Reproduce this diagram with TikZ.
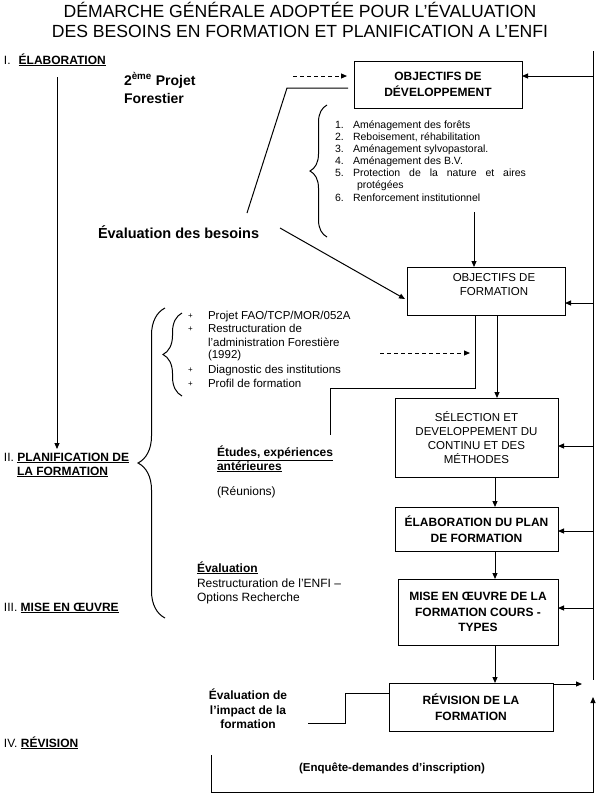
\documentclass[tikz,border=0pt]{standalone}
\usepackage{fontspec}
\setmainfont{Liberation Sans}
\usetikzlibrary{arrows.meta,decorations.pathreplacing}
\begin{document}
\begin{tikzpicture}[x=1pt,y=-1pt,
  every node/.style={inner sep=0pt, outer sep=0pt},
  box/.style={draw, line width=1pt, align=center, font=\fontsize{12}{15.5}\selectfont\bfseries},
  rbox/.style={draw, line width=1pt, align=center, font=\fontsize{11.5}{14}\selectfont},
  ln/.style={line width=1pt},
  arr/.style={line width=1pt, -{Triangle[length=6pt,width=5pt]}},
  darr/.style={arr, dash pattern=on 4pt off 3pt},
  lbl/.style={anchor=base west, font=\fontsize{12}{14}\selectfont},
  lst/.style={anchor=base west, font=\fontsize{10.5}{12}\selectfont},
  lstb/.style={anchor=base west, font=\fontsize{11.5}{13}\selectfont},
  brc/.style={line width=1pt, decorate},
]
\useasboundingbox (0,0) rectangle (601,801);

% title
\node[anchor=base, font=\fontsize{17.6}{20}\selectfont] (t1) at (300,17) {DÉMARCHE GÉNÉRALE ADOPTÉE POUR L’ÉVALUATION};
\node[anchor=base, font=\fontsize{17.6}{20}\selectfont] (t2) at (300,37) {DES BESOINS EN FORMATION ET PLANIFICATION A L’ENFI};

% left phase labels
\node[lbl] (ph1) at (4,64) {I.\hspace{8pt}\textbf{\underline{ÉLABORATION}}};
\node[lbl] (ph2) at (4,461) {II. \textbf{\underline{PLANIFICATION DE}}};
\node[lbl] (ph2b) at (17,475) {\textbf{\underline{LA FORMATION}}};
\node[lbl] (ph3) at (4,611) {III. \textbf{\underline{MISE EN ŒUVRE}}};
\node[lbl] (ph4) at (4,747) {IV. \textbf{\underline{RÉVISION}}};

\coordinate (la) at (57,77);
\coordinate (lb) at (57,449);
\draw[arr] (la) -- (lb);

% boxes
\node[box, minimum width=168pt, minimum height=47pt] (b1) at (438,84.5) {OBJECTIFS DE\\DÉVELOPPEMENT};
\node[draw, line width=1pt, minimum width=158pt, minimum height=48pt] (b2) at (486,291) {};
\node[align=center, font=\fontsize{11.5}{14}\selectfont] (b2t) at (494,285) {OBJECTIFS DE\\FORMATION};
\node[rbox, minimum width=163pt, minimum height=79pt] (b3) at (476.5,437.5) {SÉLECTION ET\\DEVELOPPEMENT DU\\CONTINU ET DES\\MÉTHODES};
\node[box, minimum width=163pt, minimum height=44pt] (b4) at (476.5,529) {ÉLABORATION DU PLAN\\DE FORMATION};
\node[box, minimum width=160pt, minimum height=66pt] (b5) at (478,612) {MISE EN ŒUVRE DE LA\\FORMATION COURS -\\TYPES};
\node[box, minimum width=164pt, minimum height=48pt] (b6) at (471,707) {RÉVISION DE LA\\FORMATION};

% 2eme projet forestier
\node[anchor=base west, font=\fontsize{14}{17}\selectfont\bfseries] (pf1) at (124,85) {2\textsuperscript{ème} Projet};
\node[anchor=base west, font=\fontsize{14}{17}\selectfont\bfseries] (pf2) at (124,103) {Forestier};

\coordinate (d1) at (293,76);
\draw[darr, shorten >=7pt] (d1) -- (d1 -| b1.west);

\coordinate (s1) at (247,213);
\coordinate (s2) at (287,88);
\coordinate (s3) at (348,88);
\draw[ln] (s1) -- (s2) -- (s3);

% list 1
\draw[brc, decoration={brace, amplitude=17pt}] (327,237) -- (327,105);
\node[lst] (n1) at (335,128) {1.};
\node[lst] (i1) at (353,128) {Aménagement des forêts};
\node[lst] (n2) at (335,140) {2.};
\node[lst] (i2) at (353,140) {Reboisement, réhabilitation};
\node[lst] (n3) at (335,152) {3.};
\node[lst] (i3) at (353,152) {Aménagement sylvopastoral.};
\node[lst] (n4) at (335,164) {4.};
\node[lst] (i4) at (353,164) {Aménagement des B.V.};
\node[lst] (n5) at (335,176) {5.};
\node[lst] (i5) at (353,176) {\makebox[173pt][s]{Protection de la nature et aires}};
\node[lst] (i5b) at (357,188) {protégées};
\node[lst] (n6) at (335,201) {6.};
\node[lst] (i6) at (353,201) {Renforcement institutionnel};

\coordinate (a12) at (474,212);
\draw[arr] (a12) -- (a12 |- b2.north);

% evaluation des besoins
\node[anchor=base west, font=\fontsize{14.5}{17}\selectfont\bfseries] (eb) at (98,238) {Évaluation des besoins};
\coordinate (e1) at (280,228);
\coordinate (e2) at (405,299);
\draw[arr] (e1) -- (e2);

% right feedback line
\coordinate (rt) at (593,51);
\coordinate (rb) at (593,680);
\draw[ln] (rt) -- (rb);
\coordinate (r1) at (593,76);
\coordinate (r2) at (593,303);
\coordinate (r3) at (593,446);
\coordinate (r4) at (593,531);
\coordinate (r5) at (593,608);
\draw[arr] (r1) -- (r1 -| b1.east);
\draw[arr] (r2) -- (r2 -| b2.east);
\draw[arr] (r3) -- (r3 -| b3.east);
\draw[arr] (r4) -- (r4 -| b4.east);
\draw[arr] (r5) -- (r5 -| b5.east);

% list 2 and big brace
\draw[brc, decoration={brace, amplitude=27pt}] (165,618) -- (165,308);
\draw[brc, decoration={brace, amplitude=19pt}] (182,396) -- (182,313);
\node[anchor=base west, font=\fontsize{8}{10}\selectfont] (bl1) at (188,318) {+};
\node[lstb] (j1) at (208,319) {Projet FAO/TCP/MOR/052A};
\node[anchor=base west, font=\fontsize{8}{10}\selectfont] (bl2) at (188,331) {+};
\node[lstb] (j2) at (208,332) {Restructuration de};
\node[lstb] (j2b) at (208,346) {l'administration Forestière};
\node[lstb] (j2c) at (208,358) {(1992)};
\node[anchor=base west, font=\fontsize{8}{10}\selectfont] (bl3) at (188,372) {+};
\node[lstb] (j3) at (208,373) {Diagnostic des institutions};
\node[anchor=base west, font=\fontsize{8}{10}\selectfont] (bl4) at (188,386) {+};
\node[lstb] (j4) at (208,387) {Profil de formation};

\coordinate (dd1) at (380,353);
\coordinate (dd2) at (470,353);
\draw[darr] (dd1) -- (dd2);

\coordinate (p1) at (475,388);
\coordinate (p2) at (330,388);
\coordinate (p3) at (330,435);
\draw[ln] (p1 |- b2.south) -- (p1) -- (p2) -- (p3);

\coordinate (q) at (497,350);
\draw[arr] (q |- b2.south) -- (q |- b3.north);
\coordinate (vx) at (495,0);
\draw[arr] (vx |- b3.south) -- (vx |- b4.north);
\draw[arr] (vx |- b4.south) -- (vx |- b5.north);
\draw[arr] (vx |- b5.south) -- (vx |- b6.north);

% etudes
\node[lbl] (et1) at (217,456) {\textbf{\underline{Études, expériences}}};
\node[lbl] (et2) at (217,470) {\textbf{\underline{antérieures}}};
\node[lbl] (reu) at (217,495) {(Réunions)};

\node[lbl] (ev1) at (197,572) {\textbf{\underline{Évaluation}}};
\node[lbl] (ev2) at (197,587) {Restructuration de l'ENFI –};
\node[lbl] (ev3) at (197,601) {Options Recherche};

% impact
\node[align=center, font=\fontsize{12}{14.5}\selectfont\bfseries] (imp) at (248,709) {Évaluation de\\l’impact de la\\formation};
\coordinate (m1) at (308,723);
\coordinate (m2) at (345,723);
\coordinate (m3) at (345,693);
\draw[ln] (m1) -- (m2) -- (m3) -- (m3 -| b6.west);

\coordinate (r6) at (582,684);
\draw[arr] (b6.east |- r6) -- (r6);

\coordinate (f1) at (211,755);
\coordinate (f2) at (211,792);
\coordinate (f3) at (593,792);
\coordinate (f4) at (593,697);
\draw[arr] (f1) -- (f2) -- (f3) -- (f4);
\node[anchor=base, font=\fontsize{11.5}{14}\selectfont\bfseries] (enq) at (392,771) {(Enquête-demandes d’inscription)};
\end{tikzpicture}
\end{document}
